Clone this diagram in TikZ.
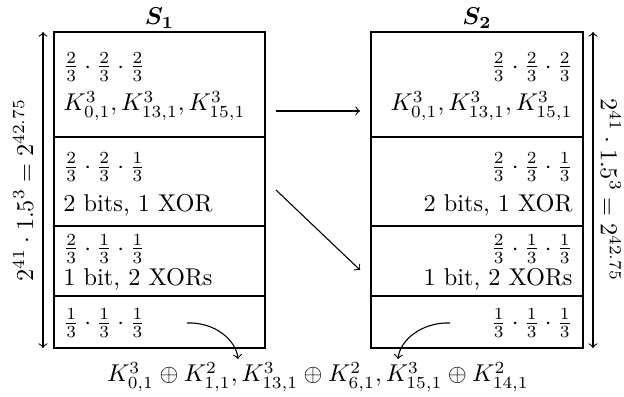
\documentclass[tikz,border=0pt]{standalone}
\usepackage{amsmath}
\usepackage{bm}
\begin{document}
\begin{tikzpicture}[x=0.4115pt,y=-0.4115pt,
  outer/.style={line width=0.9pt},
  divider/.style={line width=0.45pt},
  conn/.style={->,line width=0.45pt},
  lt/.style={anchor=base west,inner sep=0pt},
  rt/.style={anchor=base east,inner sep=0pt},
  fr/.style={inner sep=0pt}]
\useasboundingbox (0,0) rectangle (624,397);
% boxes
\draw[outer] (54,32) rectangle (265,348);
\draw[outer] (371,32) rectangle (583,348);
\foreach \yy in {137,226,296}{
  \draw[divider] (54,\yy) -- (265,\yy);
  \draw[divider] (371,\yy) -- (583,\yy);
}
% titles
\node (t1) [anchor=base,inner sep=0pt] at (159.5,25) {$\bm{S_1}$};
\node (t2) [anchor=base,inner sep=0pt] at (477,25) {$\bm{S_2}$};
% S1 texts
\node (f1a) [fr,anchor=west] at (63,67) {$\frac{2}{3}\cdot\frac{2}{3}\cdot\frac{2}{3}$};
\node (k1a) [lt] at (63,111) {$K^3_{0,1},K^3_{13,1},K^3_{15,1}$};
\node (f1b) [fr,anchor=west] at (63,167) {$\frac{2}{3}\cdot\frac{2}{3}\cdot\frac{1}{3}$};
\node (k1b) [lt] at (63,212) {2 bits, 1 XOR};
\node (f1c) [fr,anchor=west] at (63,249) {$\frac{2}{3}\cdot\frac{1}{3}\cdot\frac{1}{3}$};
\node (k1c) [lt] at (63,286) {1 bit, 2 XORs};
\node (f1d) [fr,anchor=west] at (63,323) {$\frac{1}{3}\cdot\frac{1}{3}\cdot\frac{1}{3}$};
% S2 texts
\node (f2a) [fr,anchor=east] at (573,67) {$\frac{2}{3}\cdot\frac{2}{3}\cdot\frac{2}{3}$};
\node (k2a) [rt] at (573,111) {$K^3_{0,1},K^3_{13,1},K^3_{15,1}$};
\node (f2b) [fr,anchor=east] at (573,167) {$\frac{2}{3}\cdot\frac{2}{3}\cdot\frac{1}{3}$};
\node (k2b) [rt] at (573,212) {2 bits, 1 XOR};
\node (f2c) [fr,anchor=east] at (573,249) {$\frac{2}{3}\cdot\frac{1}{3}\cdot\frac{1}{3}$};
\node (k2c) [rt] at (573,286) {1 bit, 2 XORs};
\node (f2d) [fr,anchor=east] at (573,323) {$\frac{1}{3}\cdot\frac{1}{3}\cdot\frac{1}{3}$};
% side arrows and labels
\coordinate (lt1) at (43,32); \coordinate (lb1) at (43,348);
\draw[<->,line width=0.45pt] (lb1) -- (lt1);
\node (ll) [rotate=90,anchor=base,inner sep=0pt] at (33,190) {$2^{41}\cdot 1.5^3=2^{42.75}$};
\coordinate (rt1) at (593,32); \coordinate (rb1) at (593,348);
\draw[<->,line width=0.45pt] (rb1) -- (rt1);
\node (rl) [rotate=-90,anchor=base,inner sep=0pt] at (601,190) {$2^{41}\cdot 1.5^3=2^{42.75}$};
% connectors
\coordinate (h1) at (276,111); \coordinate (h2) at (360,111);
\draw[conn] (h1) -- (h2);
\coordinate (d1) at (276,190); \coordinate (d2) at (360,270);
\draw[conn] (d1) -- (d2);
% bottom label and curved arrows
\node (bot) [anchor=base,inner sep=0pt] at (318,382) {$K^3_{0,1}\oplus K^2_{1,1},K^3_{13,1}\oplus K^2_{6,1},K^3_{15,1}\oplus K^2_{14,1}$};
\coordinate (c1) at (187,323); \coordinate (c2) at (238,359);
\draw[conn] (c1) .. controls (215,322) and (236,340) .. (c2);
\coordinate (c3) at (450,323); \coordinate (c4) at (398,359);
\draw[conn] (c3) .. controls (422,322) and (400,340) .. (c4);
\end{tikzpicture}
\end{document}
